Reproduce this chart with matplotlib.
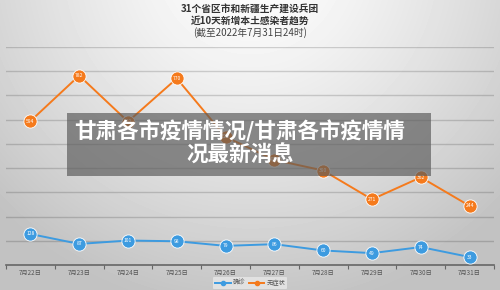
import matplotlib
matplotlib.use("Agg")
import matplotlib.pyplot as plt
import numpy as np
from matplotlib.patches import Rectangle
from matplotlib.lines import Line2D

plt.rcParams['font.family'] = ['Noto Sans CJK SC', 'DejaVu Sans']

dates = ["7月22日", "7月23日", "7月24日", "7月25日", "7月26日",
         "7月27日", "7月28日", "7月29日", "7月30日", "7月31日"]
confirmed = [128, 87, 101, 98, 79, 86, 60, 49, 74, 33]
asymptomatic = [594, 782, 592, 770, 529, 434, 390, 271, 362, 244]
series_names = ["确诊", "无症状"]
title_lines = ["31个省区市和新疆生产建设兵团", "近10天新增本土感染者趋势", "(截至2022年7月31日24时)"]
overlay_text = "甘肃各市疫情情况/甘肃各市疫情情\n况最新消息"

W, H = 500, 290
fig = plt.figure(figsize=(W / 100, H / 100), dpi=100)

# background gradient
bg = fig.add_axes([0, 0, 1, 1])
yy, xx = np.mgrid[0:H, 0:W]
d = np.sqrt(((xx - 250) / 330.0) ** 2 + ((yy + 40) / 330.0) ** 2)
val = np.clip(1.0 - 0.22 * d ** 1.3, 0.76, 1.0)
bg.imshow(val, cmap='gray', vmin=0, vmax=1, extent=[0, W, H, 0], aspect='auto')
bg.set_xlim(0, W)
bg.set_ylim(H, 0)
bg.axis('off')

ax = fig.add_axes([6 / W, (H - 265) / H, 488 / W, (265 - 47) / H])
ax.patch.set_alpha(0)
x = np.arange(len(dates))
ax.set_xlim(-0.5, len(dates) - 0.5)
ax.set_ylim(0, 900)
for v in range(100, 901, 100):
    ax.axhline(v, color='black', alpha=0.16, lw=1.0, zorder=1)
for s in ['top', 'right', 'left']:
    ax.spines[s].set_visible(False)
ax.spines['bottom'].set_color('#666666')
ax.spines['bottom'].set_linewidth(1.2)
ax.set_yticks([])
ax.set_xticks(x)
ax.set_xticklabels(dates, fontsize=4.5, color='#555555')
ax.tick_params(axis='x', which='major', length=0, pad=3)
ax.set_xticks(np.arange(-0.5, len(dates), 1), minor=True)
ax.tick_params(axis='x', which='minor', length=3, width=0.8, color='#666666', direction='out')

blue = '#3d9be0'
orange = '#f57a1c'
ax.plot(x, confirmed, color=blue, lw=1.4, marker='o', ms=9.5, mfc=blue, mec='white', mew=0.6, zorder=3)
ax.plot(x, asymptomatic, color=orange, lw=1.4, marker='o', ms=9.5, mfc=orange, mec='white', mew=0.6, zorder=3)
for xi, v in zip(x, confirmed):
    ax.text(xi, v, str(v), color='white', fontsize=3.6, ha='center', va='center', zorder=4)
for xi, v in zip(x, asymptomatic):
    ax.text(xi, v, str(v), color='white', fontsize=3.6, ha='center', va='center', zorder=4)

# title
ty = [9, 21, 33]
for i, (t, yv) in enumerate(zip(title_lines, ty)):
    fig.text(0.5, 1 - yv / H, t, ha='center', va='center', fontsize=7,
             fontweight='bold' if i < 2 else 'normal', color='#333333' if i < 2 else '#444444')

# legend
handles = [Line2D([0], [0], color=blue, lw=1.4, marker='o', ms=3, mfc=blue),
           Line2D([0], [0], color=orange, lw=1.4, marker='o', ms=3, mfc=orange)]
leg = fig.legend(handles, series_names, loc='center', bbox_to_anchor=(0.5, 1 - 283 / H),
                 ncol=2, fontsize=4.5, frameon=True, handlelength=2.5, columnspacing=0.6,
                 handletextpad=0.3, borderpad=0.3)
leg.get_frame().set_facecolor('#e8e8e8')
leg.get_frame().set_edgecolor('none')
for t in leg.get_texts():
    t.set_color('#555555')

# overlay
ov = fig.add_axes([0, 0, 1, 1], zorder=10)
ov.set_xlim(0, W)
ov.set_ylim(H, 0)
ov.axis('off')
ov.patch.set_alpha(0)
ov.add_patch(Rectangle((67, 113), 364, 63, facecolor='#5a5a5a', alpha=0.68, edgecolor='none'))
ov.text(240, 143, overlay_text, ha='center', va='center', fontsize=15.5, fontweight='bold',
        color='white', linespacing=1.15)

fig.savefig('out.png', dpi=100)
